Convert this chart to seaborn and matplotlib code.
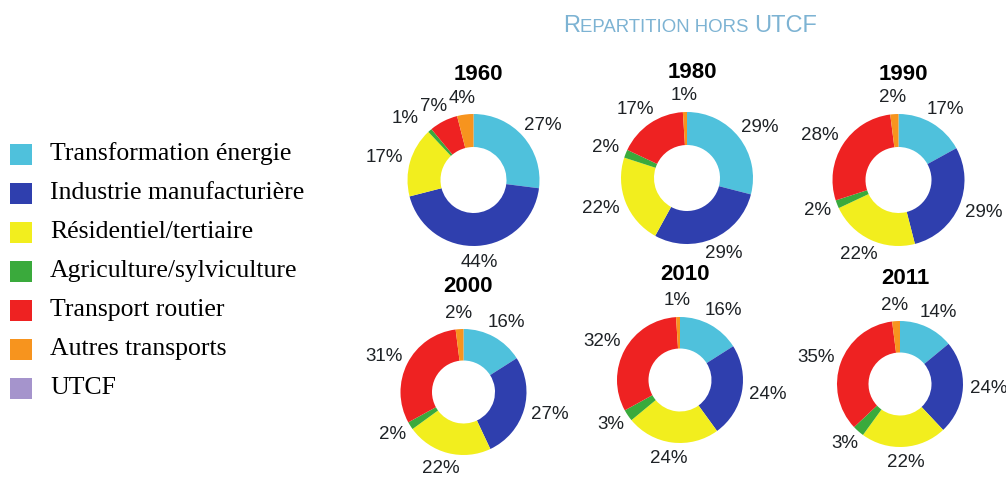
import numpy as np
import seaborn as sns
import matplotlib.pyplot as plt
from matplotlib.patches import Rectangle

# Sectors (legend order) and their colours
sectors = ['Transformation énergie', 'Industrie manufacturière', 'Résidentiel/tertiaire',
           'Agriculture/sylviculture', 'Transport routier', 'Autres transports', 'UTCF']
colors = ['#4fc1dc', '#2f3fae', '#f2ee1e', '#3aaa3c', '#ee2222', '#f7941e', '#a594cc']

# Share of emissions (%) per year, excluding UTCF
years = ['1960', '1980', '1990', '2000', '2010', '2011']
share_1960 = [27, 44, 17, 1, 7, 4]
share_1980 = [29, 29, 22, 2, 17, 1]
share_1990 = [17, 29, 22, 2, 28, 2]
share_2000 = [16, 27, 22, 2, 31, 2]
share_2010 = [16, 24, 24, 3, 32, 1]
share_2011 = [14, 24, 22, 3, 35, 2]
shares = [share_1960, share_1980, share_1990, share_2000, share_2010, share_2011]

sns.set_theme(style='white')
plt.rcParams['font.family'] = ['Liberation Sans', 'DejaVu Sans']

W, H = 1006, 482
fig = plt.figure(figsize=(W / 100, H / 100), dpi=100)
renderer = fig.canvas.get_renderer()

# donut centres / radius in pixels (from top-left)
layout = [(473.5, 180, 66), (687, 178, 66), (898.5, 180, 66),
          (463.5, 392, 63), (680, 380, 63), (900, 384, 63)]

label_color = '#1e2226'
for year, vals, (cx, cy, r) in zip(years, shares, layout):
    half = 115
    ax = fig.add_axes([(cx - half) / W, (H - cy - half) / H, 2 * half / W, 2 * half / H])
    wedges, _ = ax.pie(vals, colors=colors[:len(vals)], startangle=90, counterclock=False,
                       radius=1, wedgeprops=dict(width=0.5, linewidth=0))
    lim = half / r
    ax.set_xlim(-lim, lim)
    ax.set_ylim(-lim, lim)
    ax.set_aspect('auto')
    ax.axis('off')

    labels = []
    for w, v in zip(wedges, vals):
        th = np.deg2rad((w.theta1 + w.theta2) / 2)
        c, s = np.cos(th), np.sin(th)
        t = ax.annotate(f'{v}%', xy=(1.12 * c, 1.12 * s), xytext=(0, 0),
                        textcoords='offset pixels', ha='center', va='center',
                        fontsize=13.5, color=label_color, annotation_clip=False)
        bb = t.get_window_extent(renderer)
        off = [bb.width / 2 * c, bb.height / 2 * s]
        t.set_position(off)
        labels.append([t, c, off])

    # push apart labels of small neighbouring slices
    for i in range(len(labels)):
        for j in range(i + 1, len(labels)):
            a, b = labels[i], labels[j]
            ba = a[0].get_window_extent(renderer)
            bbx = b[0].get_window_extent(renderer)
            ox = min(ba.x1, bbx.x1) - max(ba.x0, bbx.x0)
            oy = min(ba.y1, bbx.y1) - max(ba.y0, bbx.y0)
            if ox > 0 and oy > 0:
                m = a if abs(a[1]) > abs(b[1]) else b
                m[2][0] += np.sign(m[1]) * (ox + 2)
                m[0].set_position(tuple(m[2]))

    ax.annotate(year, xy=(0, 0), xytext=(5, 106), textcoords='offset pixels',
                ha='center', va='center', fontsize=16, fontweight='bold', color='black',
                annotation_clip=False)

# Title in small capitals
parts = [('R', 17), ('EPARTITION HORS ', 13.4), ('UTCF', 17)]
x = 563
for txt, fs in parts:
    t = fig.text(x / W, (H - 32) / H, txt, fontsize=fs, color='#7db3d3',
                 ha='left', va='baseline')
    x += t.get_window_extent(renderer).width

# Legend
for i, (lab, col) in enumerate(zip(sectors, colors)):
    y = 154 + 39 * i
    fig.patches.append(Rectangle((10 / W, (H - y - 10.5) / H), 22 / W, 21 / H,
                                 transform=fig.transFigure, facecolor=col,
                                 edgecolor='none'))
    fig.text(50 / W, (H - y) / H, lab, fontsize=18.5, family='Liberation Serif',
             color='black', ha='left', va='center')

fig.savefig('out.png', dpi=100)
